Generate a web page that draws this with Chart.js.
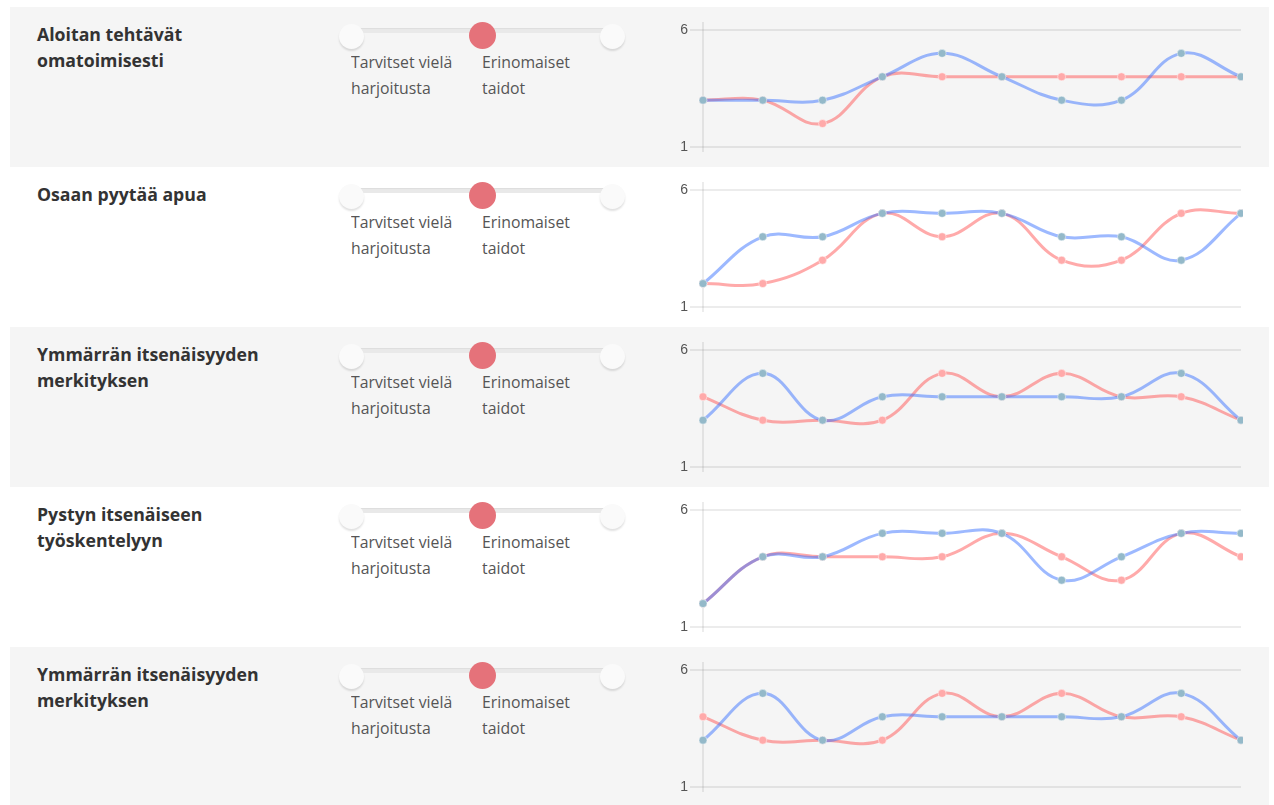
<!DOCTYPE html>
<html>
<head>
<meta charset="utf-8">
<script src="https://cdn.jsdelivr.net/npm/chart.js@4/dist/chart.umd.min.js"></script>
<style>
  html, body { margin: 0; padding: 0; background: #ffffff; width: 1274px; height: 805px; overflow: hidden; }
  .row { position: absolute; left: 10px; width: 1259px; height: 160px; }
  .row.gray { background: #f5f5f5; }
  .title { position: absolute; left: 27px; top: 15px; font-family: "Open Sans", sans-serif; font-weight: 700; font-size: 17.7px; line-height: 25.5px; color: #333; width: 280px; white-space: nowrap; }
  .track { position: absolute; left: 340px; top: 21px; width: 262px; height: 5px; background: #e9e9e9; border-radius: 3px; box-shadow: inset 0 1px 1px rgba(0,0,0,0.05); }
  .knob { position: absolute; width: 25px; height: 25px; border-radius: 50%; background: #fafafa; box-shadow: 0 2px 2px rgba(0,0,0,0.12); }
  .knob.red { width: 27px; height: 27px; background: #e5727a; box-shadow: none; }
  .lbl { position: absolute; top: 42px; font-family: "Open Sans", sans-serif; font-size: 17px; line-height: 26px; color: #555; transform: scaleX(0.93); transform-origin: 0 0; white-space: nowrap; }
  .cwrap { position: absolute; left: 660px; top: 0; width: 573px; height: 160px; overflow: hidden; }
  canvas { position: absolute; left: 0; top: 0; }
</style>
</head>
<body>
<script>
// ---- data ----
const sessions = ['1', '2', '3', '4', '5', '6', '7', '8', '9', '10'];
const skillTitles = [
  ['Aloitan tehtävät', 'omatoimisesti'],
  ['Osaan pyytää apua'],
  ['Ymmärrän itsenäisyyden', 'merkityksen'],
  ['Pystyn itsenäiseen', 'työskentelyyn'],
  ['Ymmärrän itsenäisyyden', 'merkityksen']
];
const sliderLow = ['Tarvitset vielä', 'harjoitusta'];
const sliderHigh = ['Erinomaiset', 'taidot'];
const yTickValues = [1, 6];

const row1Blue = [3, 3, 3, 4, 5, 4, 3, 3, 5, 4];
const row1Red  = [3, 3, 2, 4, 4, 4, 4, 4, 4, 4];
const row2Blue = [2, 4, 4, 5, 5, 5, 4, 4, 3, 5];
const row2Red  = [2, 2, 3, 5, 4, 5, 3, 3, 5, 5];
const row3Blue = [3, 5, 3, 4, 4, 4, 4, 4, 5, 3];
const row3Red  = [4, 3, 3, 3, 5, 4, 5, 4, 4, 3];
const row4Blue = [2, 4, 4, 5, 5, 5, 3, 4, 5, 5];
const row4Red  = [2, 4, 4, 4, 4, 5, 4, 3, 5, 4];
const row5Blue = [3, 5, 3, 4, 4, 4, 4, 4, 5, 3];
const row5Red  = [4, 3, 3, 3, 5, 4, 5, 4, 4, 3];

const blueRows = [row1Blue, row2Blue, row3Blue, row4Blue, row5Blue];
const redRows  = [row1Red, row2Red, row3Red, row4Red, row5Red];

// ---- layout ----
const gridColor = 'rgba(0,0,0,0.075)';

skillTitles.forEach((title, i) => {
  const row = document.createElement('div');
  row.className = 'row' + (i % 2 === 0 ? ' gray' : '');
  row.style.top = (7 + 160 * i) + 'px';

  const t = document.createElement('div');
  t.className = 'title';
  t.innerHTML = title.join('<br>');
  row.appendChild(t);

  const track = document.createElement('div');
  track.className = 'track';
  row.appendChild(track);

  const k1 = document.createElement('div'); k1.className = 'knob';
  k1.style.left = (341 - 12.5) + 'px'; k1.style.top = (29 - 12.5) + 'px';
  const k2 = document.createElement('div'); k2.className = 'knob';
  k2.style.left = (602 - 12.5) + 'px'; k2.style.top = (29 - 12.5) + 'px';
  const k3 = document.createElement('div'); k3.className = 'knob red';
  k3.style.left = (472 - 13.5) + 'px'; k3.style.top = (28.5 - 13.5) + 'px';
  row.appendChild(k1); row.appendChild(k2); row.appendChild(k3);

  const l1 = document.createElement('div'); l1.className = 'lbl';
  l1.style.left = '341px'; l1.innerHTML = sliderLow.join('<br>');
  const l2 = document.createElement('div'); l2.className = 'lbl';
  l2.style.left = '472px'; l2.innerHTML = sliderHigh.join('<br>');
  row.appendChild(l1); row.appendChild(l2);

  const wrap = document.createElement('div');
  wrap.className = 'cwrap';
  const cv = document.createElement('canvas');
  cv.width = 576; cv.height = 160;
  cv.style.width = '576px'; cv.style.height = '160px';
  wrap.appendChild(cv);
  row.appendChild(wrap);
  document.body.appendChild(row);

  new Chart(cv.getContext('2d'), {
    type: 'line',
    data: {
      labels: sessions,
      datasets: [
        {
          data: blueRows[i],
          borderColor: 'rgba(60,115,255,0.5)',
          borderWidth: 3,
          tension: 0.4,
          fill: false,
          pointRadius: 4,
          pointBackgroundColor: '#94b9c9',
          pointBorderColor: 'rgba(255,255,255,0.45)',
          pointBorderWidth: 1
        },
        {
          data: redRows[i],
          borderColor: 'rgba(255,85,85,0.5)',
          borderWidth: 3,
          tension: 0.4,
          fill: false,
          pointRadius: 4,
          pointBackgroundColor: '#ffaaaa',
          pointBorderColor: 'rgba(255,255,255,0.45)',
          pointBorderWidth: 1
        }
      ]
    },
    options: {
      responsive: false,
      animation: false,
      devicePixelRatio: 1,
      layout: { padding: { top: 15, right: 2, left: 0, bottom: 0 } },
      plugins: { legend: { display: false }, tooltip: { enabled: false } },
      scales: {
        x: {
          offset: false,
          ticks: { display: false },
          border: { display: false },
          grid: {
            color: (ctx) => (ctx.index === 0 ? gridColor : 'rgba(0,0,0,0)'),
            lineWidth: 2,
            tickLength: 5
          },
          afterFit: (s) => { s.height = 20; }
        },
        y: {
          min: 1,
          max: 6.34,
          afterBuildTicks: (s) => { s.ticks = yTickValues.map(v => ({ value: v })); },
          ticks: { color: '#555', font: { size: 14 }, padding: 2 },
          border: { display: false },
          grid: { color: gridColor, lineWidth: 2, tickLength: 13 },
          afterFit: (s) => { s.width = 33; }
        }
      }
    }
  });
});
</script>
</body>
</html>
